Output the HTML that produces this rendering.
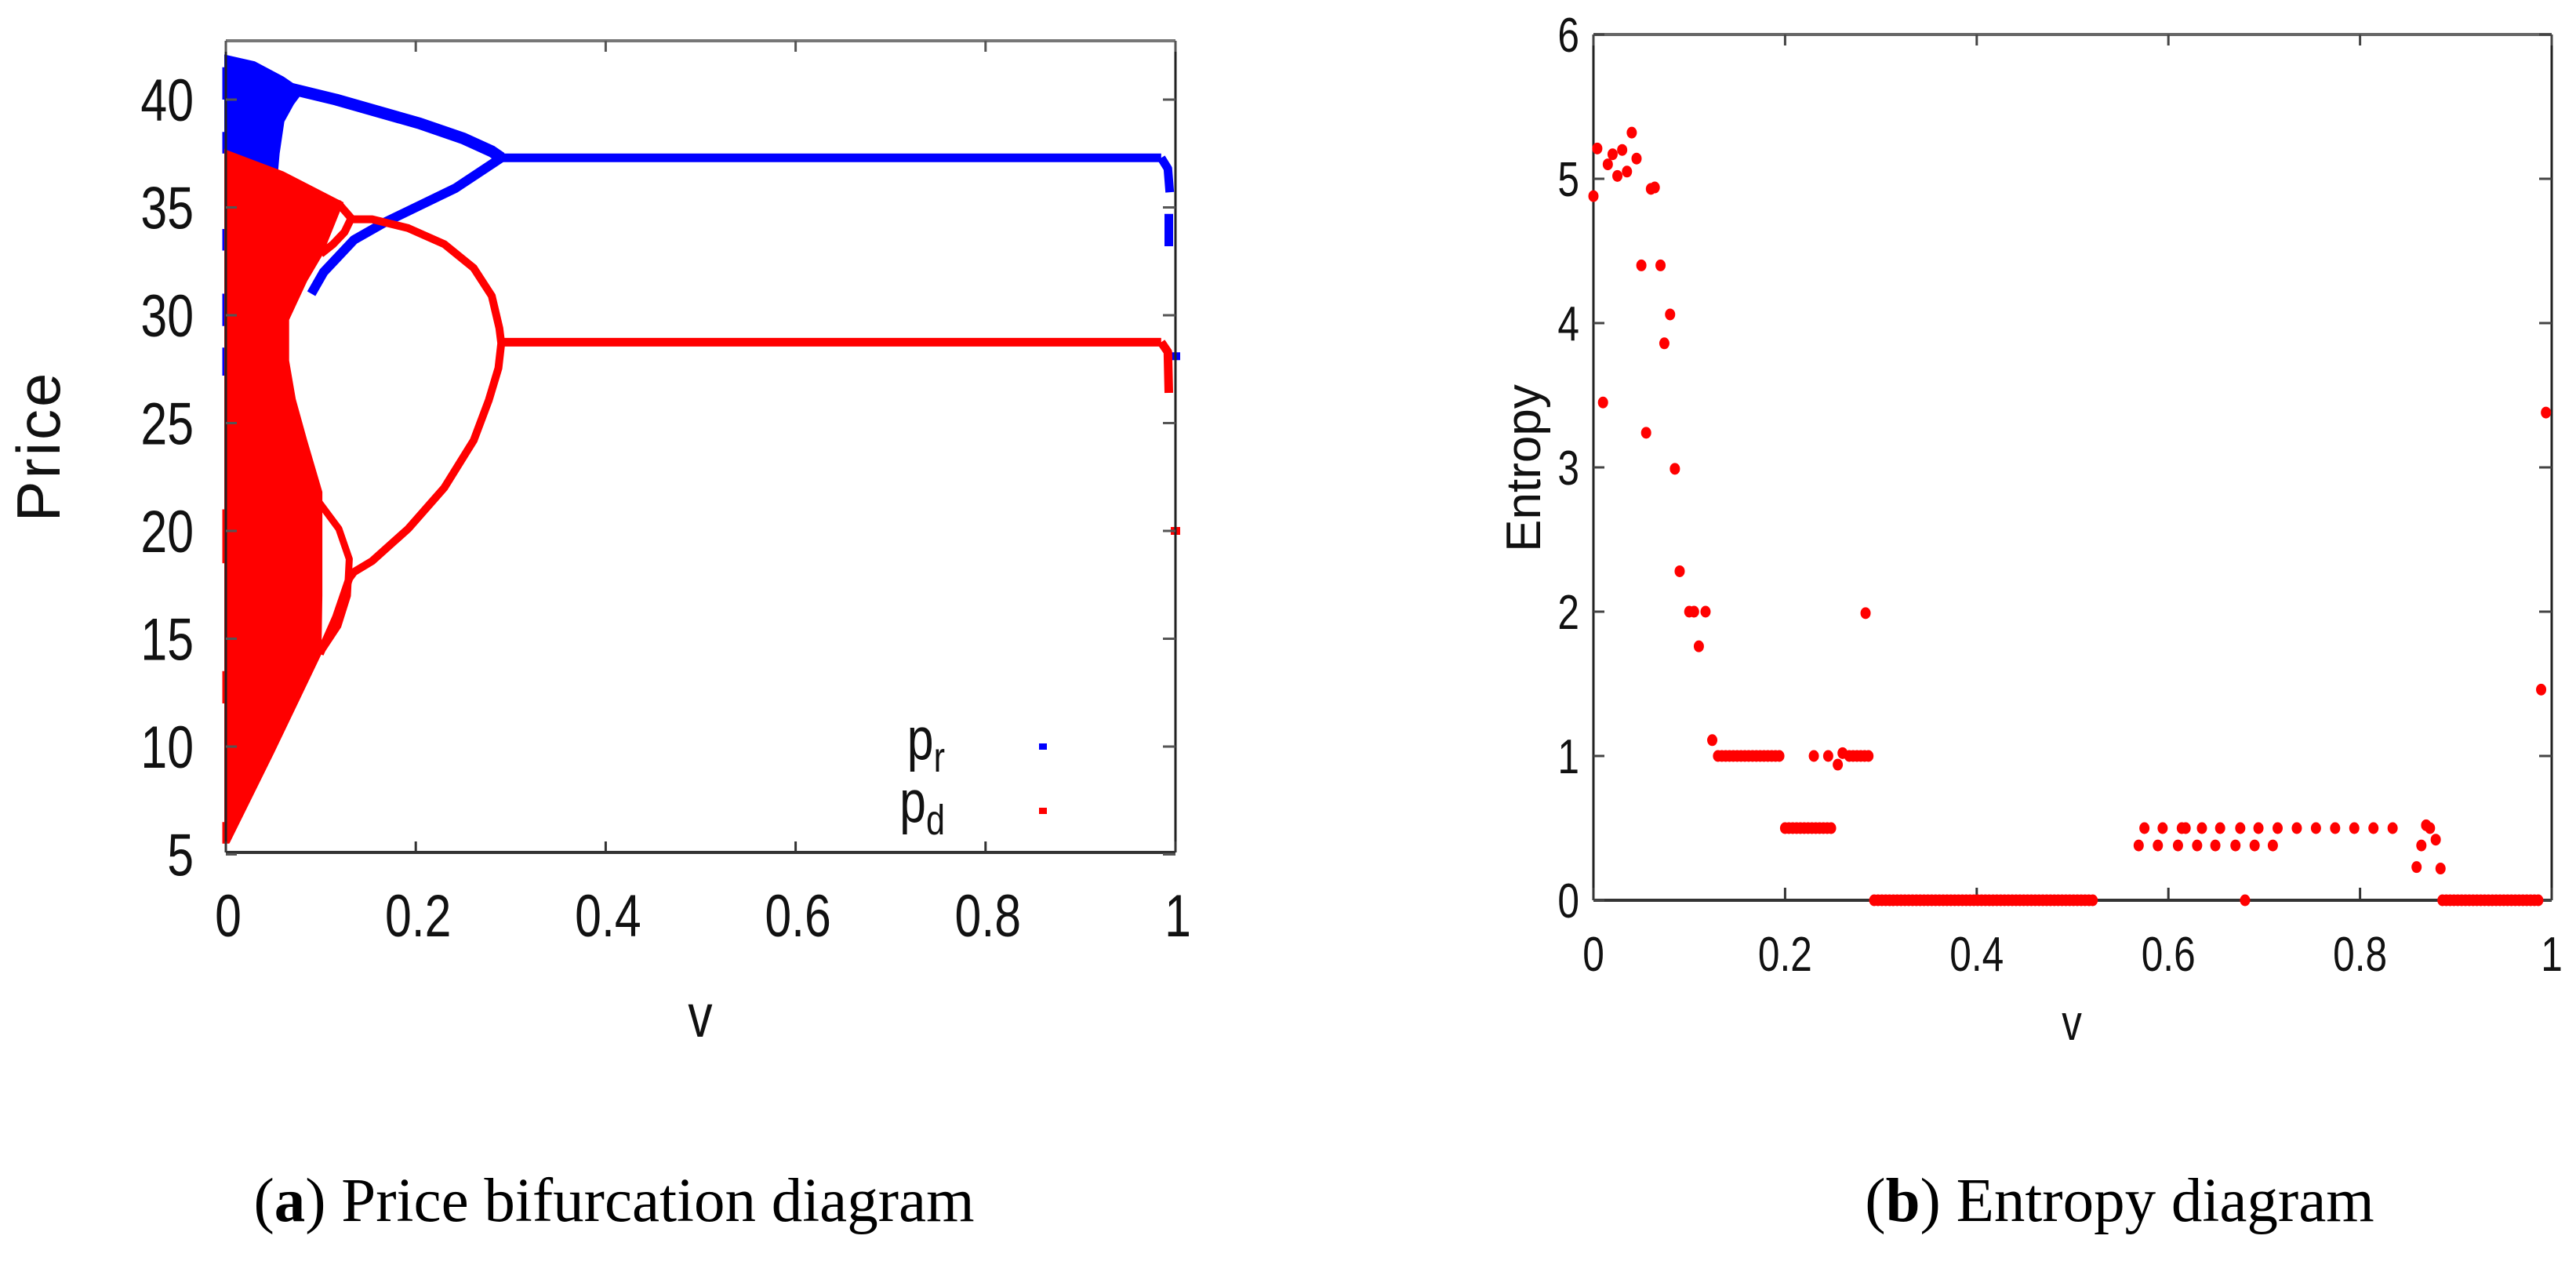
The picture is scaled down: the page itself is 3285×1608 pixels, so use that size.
<!DOCTYPE html>
<html><head><meta charset="utf-8"><style>
html,body{margin:0;padding:0;background:#fff;}
svg{display:block;}
.tk{font-family:"Liberation Sans Narrow","Liberation Sans",sans-serif;fill:#111;}
.cap{font-family:"Liberation Serif",serif;fill:#000;}
</style></head><body>
<svg id="fig" width="3285" height="1608" viewBox="0 0 3285 1608" xmlns="http://www.w3.org/2000/svg">
<rect width="3285" height="1608" fill="#fff"/>
<g id="left"></g>
<g id="right"></g>
<text class="cap" x="783" y="1557" font-size="79" text-anchor="middle">(<tspan font-weight="bold">a</tspan>) Price bifurcation diagram</text>
<text class="cap" x="2703" y="1557" font-size="79" text-anchor="middle">(<tspan font-weight="bold">b</tspan>) Entropy diagram</text>
</svg>
<script>
// ---------- Price bifurcation data ----------
const xTicksL = [0, 0.2, 0.4, 0.6, 0.8, 1];
const xTickLabelsL = ["0", "0.2", "0.4", "0.6", "0.8", "1"];
const yTicksL = [5, 10, 15, 20, 25, 30, 35, 40];
const yTickLabelsL = ["5", "10", "15", "20", "25", "30", "35", "40"];
const prChaosV = [0, 0.03, 0.06, 0.08, 0.07, 0.06, 0.055, 0.05, 0.03, 0];
const prChaosP = [42.0, 41.7, 41.0, 40.4, 39.8, 39.0, 37.5, 35.0, 34.5, 34.0];
const prUpperV = [0.05, 0.116, 0.204, 0.25, 0.28, 0.29];
const prUpperP = [40.7, 40.0, 38.9, 38.2, 37.6, 37.3];
const prLowerV = [0.29, 0.242, 0.167, 0.135, 0.103, 0.09];
const prLowerP = [37.3, 35.9, 34.3, 33.5, 32.0, 31.0];
const prBandV = [0, 0.072];
const prBandP = [33.6, 33.6];
const prFixedV = [0.29, 0.985];
const prFixedP = [37.3, 37.3];
const prEndV = [0.985, 0.992, 0.994];
const prEndP = [37.3, 36.8, 35.7];
const prEnd2V = [0.993, 0.993];
const prEnd2P = [34.7, 33.2];
const prLooseV = [1.0];
const prLooseP = [28.1];
const prAxisP0 = [41.5, 38.5, 34.0, 31.0, 28.5];
const prAxisP1 = [40.0, 37.5, 33.0, 29.5, 27.2];

const pdChaosV = [0, 0.06, 0.122, 0.1, 0.084, 0.065, 0.065, 0.072, 0.084, 0.1, 0.1, 0.099, 0.049, 0.003, 0];
const pdChaosP = [37.6, 36.6, 35.2, 32.8, 31.6, 29.8, 27.9, 26.1, 24.2, 21.8, 17.0, 14.3, 9.7, 5.6, 5.6];
const pdLoopV = [0.09, 0.103, 0.119, 0.132, 0.125, 0.113, 0.1];
const pdLoopP = [34.8, 35.25, 35.16, 34.5, 33.86, 33.3, 32.84];
const pdBigV = [0.132, 0.154, 0.192, 0.23, 0.261, 0.28, 0.288, 0.29, 0.287, 0.277, 0.261, 0.23, 0.192, 0.154, 0.135, 0.13, 0.116, 0.099];
const pdBigP = [34.45, 34.45, 34.04, 33.3, 32.19, 30.9, 29.4, 28.7, 27.55, 26.07, 24.2, 22.0, 20.1, 18.6, 18.1, 17.8, 16.0, 14.3];
const pdLowV = [0.097, 0.119, 0.13, 0.128, 0.118, 0.1];
const pdLowP = [21.4, 20.1, 18.7, 17.0, 15.6, 14.4];
const pdFixedV = [0.29, 0.985];
const pdFixedP = [28.75, 28.75];
const pdEndV = [0.985, 0.992, 0.993];
const pdEndP = [28.75, 28.3, 26.4];
const pdLooseV = [1.0];
const pdLooseP = [20.0];
const pdAxisP0 = [21.0, 13.5, 6.5];
const pdAxisP1 = [18.5, 12.0, 5.5];

// ---------- Entropy data ----------
const xTicksR = [0, 0.2, 0.4, 0.6, 0.8, 1];
const xTickLabelsR = ["0", "0.2", "0.4", "0.6", "0.8", "1"];
const yTicksR = [0, 1, 2, 3, 4, 5, 6];
const yTickLabelsR = ["0", "1", "2", "3", "4", "5", "6"];
const entV = [0, 0.004, 0.01, 0.015, 0.02, 0.025, 0.03, 0.035, 0.04, 0.045, 0.05, 0.055, 0.06, 0.064, 0.07, 0.074, 0.08, 0.085, 0.09,
  0.1, 0.105, 0.11, 0.117, 0.124, 0.23, 0.245, 0.255, 0.26, 0.284, 0.68,
  0.575, 0.594, 0.614, 0.618, 0.635, 0.654, 0.675, 0.694, 0.714, 0.734, 0.754, 0.774, 0.794, 0.814, 0.834,
  0.569, 0.589, 0.61, 0.63, 0.649, 0.67, 0.69, 0.709,
  0.859, 0.864, 0.869, 0.873, 0.879, 0.884, 0.989, 0.994];
const entH = [4.88, 5.21, 3.45, 5.10, 5.17, 5.02, 5.20, 5.05, 5.32, 5.14, 4.40, 3.24, 4.93, 4.94, 4.40, 3.86, 4.06, 2.99, 2.28,
  2.0, 2.0, 1.76, 2.0, 1.11, 1.0, 1.0, 0.94, 1.02, 1.99, 0,
  0.5, 0.5, 0.5, 0.5, 0.5, 0.5, 0.5, 0.5, 0.5, 0.5, 0.5, 0.5, 0.5, 0.5, 0.5,
  0.38, 0.38, 0.38, 0.38, 0.38, 0.38, 0.38, 0.38,
  0.23, 0.38, 0.52, 0.50, 0.42, 0.22, 1.46, 3.38];
const runStart = [0.13, 0.2, 0.267, 0.293, 0.886];
const runEnd = [0.195, 0.25, 0.29, 0.523, 0.987];
const runH = [1, 0.5, 1, 0, 0];

const NS = "http://www.w3.org/2000/svg";
function mk(parent, tag, attrs) {
  const e = document.createElementNS(NS, tag);
  for (const k in attrs) e.setAttribute(k, attrs[k]);
  parent.appendChild(e);
  return e;
}
function condense(t, f) {
  const w = t.getComputedTextLength();
  if (w > 0) { t.setAttribute('textLength', (w * f).toFixed(1)); t.setAttribute('lengthAdjust', 'spacingAndGlyphs'); }
}
const xL = v => 288 + v * 1211;
const yL = p => 127 + (40 - p) * 27.5;
const xR = v => 2032 + v * 1222;
const yR = h => 1148 - h * 184;

// ---------- Left chart ----------
const L = document.getElementById('left');
function pts(vs, ps) { return vs.map((v, i) => xL(v).toFixed(1) + "," + yL(ps[i]).toFixed(1)).join(" "); }
function line(vs, ps, color, w, name) {
  const e = mk(L, 'polyline', {points: pts(vs, ps), fill: 'none', stroke: color, 'stroke-width': w, 'stroke-linejoin': 'round'});
  
  
  return e;
}
function poly(vs, ps, color, name) {
  const e = mk(L, 'polygon', {points: pts(vs, ps), fill: color, stroke: color, 'stroke-width': 4});
  
  
}
poly(prChaosV, prChaosP, '#0000ff', 'pr-chaotic-region');
line(prUpperV, prUpperP, '#0000ff', 15, 'pr-upper-branch');
line(prLowerV, prLowerP, '#0000ff', 12, 'pr-lower-branch');
line(prBandV, prBandP, '#0000ff', 9, 'pr-band');
line(prFixedV, prFixedP, '#0000ff', 11, 'pr-fixed-point');
line(prEndV, prEndP, '#0000ff', 11, 'pr-end-drop');
line(prEnd2V, prEnd2P, '#0000ff', 11, 'pr-end-drop-2');
prAxisP0.forEach((p, i) => {
  const e = mk(L, 'line', {x1: xL(0), x2: xL(0), y1: yL(p), y2: yL(prAxisP1[i]), stroke: '#0000ff', 'stroke-width': 9});
  
  
});
prLooseV.forEach((v, i) => {
  const e = mk(L, 'rect', {x: xL(v) - 6, y: yL(prLooseP[i]) - 5, width: 12, height: 10, fill: '#0000ff'});
  
  
});
poly(pdChaosV, pdChaosP, '#ff0000', 'pd-chaotic-region');
line(pdLoopV, pdLoopP, '#ff0000', 10, 'pd-upper-loop');
line(pdBigV, pdBigP, '#ff0000', 10, 'pd-big-loop');
line(pdLowV, pdLowP, '#ff0000', 9, 'pd-lower-loop');
line(pdFixedV, pdFixedP, '#ff0000', 11, 'pd-fixed-point');
line(pdEndV, pdEndP, '#ff0000', 11, 'pd-end-drop');
pdAxisP0.forEach((p, i) => {
  const e = mk(L, 'line', {x1: xL(0), x2: xL(0), y1: yL(p), y2: yL(pdAxisP1[i]), stroke: '#ff0000', 'stroke-width': 9});
  
  
});
pdLooseV.forEach((v, i) => {
  const e = mk(L, 'rect', {x: xL(v) - 6, y: yL(pdLooseP[i]) - 5, width: 12, height: 10, fill: '#ff0000'});
  
  
});
(function () {
  const x0 = 288, x1 = 1499, y0 = 52, y1 = 1087;
  let e = mk(L, 'line', {x1: x0, y1: y0, x2: x1, y2: y0, stroke: '#777', 'stroke-width': 4});
   
  e = mk(L, 'line', {x1: x0, y1: y1, x2: x1, y2: y1, stroke: '#333', 'stroke-width': 4});
   
  e = mk(L, 'line', {x1: x0, y1: y0, x2: x0, y2: y1, stroke: '#222', 'stroke-width': 3});
   
  e = mk(L, 'line', {x1: x1, y1: y0, x2: x1, y2: y1, stroke: '#222', 'stroke-width': 3});
   
  xTicksL.forEach((v, i) => {
    let t = mk(L, 'line', {x1: xL(v), x2: xL(v), y1: y1, y2: y1 - 14, stroke: '#333', 'stroke-width': 3});
     
    t = mk(L, 'line', {x1: xL(v), x2: xL(v), y1: y0, y2: y0 + 14, stroke: '#555', 'stroke-width': 3});
     
    const tx = mk(L, 'text', {x: xL(v) + 3, y: 1194, 'font-size': 76, 'text-anchor': 'middle', class: 'tk'});
    tx.textContent = xTickLabelsL[i];
     
    condense(tx, 0.8);
  });
  yTicksL.forEach((p, i) => {
    let t = mk(L, 'line', {x1: x0, x2: x0 + 14, y1: yL(p), y2: yL(p), stroke: '#555', 'stroke-width': 3});
     
    t = mk(L, 'line', {x1: x1, x2: x1 - 16, y1: yL(p), y2: yL(p), stroke: '#555', 'stroke-width': 3});
     
    const tx = mk(L, 'text', {x: 247, y: yL(p) + 27, 'font-size': 76, 'text-anchor': 'end', class: 'tk'});
    tx.textContent = yTickLabelsL[i];
     
    condense(tx, 0.8);
  });
  let tx = mk(L, 'text', {x: 893, y: 1322, 'font-size': 78, 'text-anchor': 'middle', class: 'tk'});
  tx.textContent = 'v';
   
  condense(tx, 0.8);
  tx = mk(L, 'text', {x: 0, y: 0, 'font-size': 78, 'text-anchor': 'middle', 'font-family': '"Liberation Sans",sans-serif', fill: '#111', 'letter-spacing': 3, transform: 'translate(76,569) rotate(-90)'});
  tx.textContent = 'Price';
   
  const lg = mk(L, 'g', {});
   
  let t1 = mk(lg, 'text', {x: 1205, y: 968, 'font-size': 76, 'text-anchor': 'end', class: 'tk', transform: 'translate(1205,0) scale(0.8,1) translate(-1205,0)'});
  t1.innerHTML = 'p<tspan font-size="54" dy="16">r</tspan>';
   
  let t2 = mk(lg, 'text', {x: 1205, y: 1048, 'font-size': 76, 'text-anchor': 'end', class: 'tk', transform: 'translate(1205,0) scale(0.8,1) translate(-1205,0)'});
  t2.innerHTML = 'p<tspan font-size="54" dy="16">d</tspan>';
   
  let d1 = mk(lg, 'rect', {x: 1325, y: 948, width: 10, height: 8, fill: '#0000ff'});
   
  let d2 = mk(lg, 'rect', {x: 1325, y: 1030, width: 10, height: 8, fill: '#ff0000'});
   
})();

// ---------- Right chart ----------
const R = document.getElementById('right');
(function () {
  const x0 = 2032, x1 = 3254, y0 = 44, y1 = 1148;
  let e = mk(R, 'line', {x1: x0, y1: y0, x2: x1, y2: y0, stroke: '#666', 'stroke-width': 4});
   
  e = mk(R, 'line', {x1: x0, y1: y1, x2: x1, y2: y1, stroke: '#333', 'stroke-width': 4});
   
  e = mk(R, 'line', {x1: x0, y1: y0, x2: x0, y2: y1, stroke: '#222', 'stroke-width': 3});
   
  e = mk(R, 'line', {x1: x1, y1: y0, x2: x1, y2: y1, stroke: '#222', 'stroke-width': 3});
   
  xTicksR.forEach((v, i) => {
    let t = mk(R, 'line', {x1: xR(v), x2: xR(v), y1: y1, y2: y1 - 16, stroke: '#333', 'stroke-width': 3});
     
    t = mk(R, 'line', {x1: xR(v), x2: xR(v), y1: y0, y2: y0 + 14, stroke: '#444', 'stroke-width': 3});
     
    const tx = mk(R, 'text', {x: xR(v), y: 1238, 'font-size': 62, 'text-anchor': 'middle', class: 'tk'});
    tx.textContent = xTickLabelsR[i];
     
    condense(tx, 0.8);
  });
  yTicksR.forEach((h, i) => {
    let t = mk(R, 'line', {x1: x0, x2: x0 + 14, y1: yR(h), y2: yR(h), stroke: '#444', 'stroke-width': 3});
     
    t = mk(R, 'line', {x1: x1, x2: x1 - 16, y1: yR(h), y2: yR(h), stroke: '#444', 'stroke-width': 3});
     
    const tx = mk(R, 'text', {x: 2014, y: yR(h) + 22, 'font-size': 62, 'text-anchor': 'end', class: 'tk'});
    tx.textContent = yTickLabelsR[i];
     
    condense(tx, 0.8);
  });
  let tx = mk(R, 'text', {x: 2642, y: 1326, 'font-size': 64, 'text-anchor': 'middle', class: 'tk'});
  tx.textContent = 'v';
   
  condense(tx, 0.8);
  tx = mk(R, 'text', {x: 0, y: 0, 'font-size': 62, 'text-anchor': 'middle', 'font-family': '"Liberation Sans",sans-serif', fill: '#111', transform: 'translate(1964,597) rotate(-90)'});
  tx.textContent = 'Entropy';
   

  runStart.forEach((s, i) => {
    for (let v = s; v <= runEnd[i] + 1e-9; v += 0.004) {
      const d = mk(R, 'ellipse', {cx: xR(v), cy: yR(runH[i]), rx: 6.5, ry: 7.5, fill: '#ff0000'});
      
      
    }
  });
  entV.forEach((v, i) => {
    const d = mk(R, 'ellipse', {cx: xR(v), cy: yR(entH[i]), rx: 6.5, ry: 7.5, fill: '#ff0000'});
    
    
  });
})();
</script>
</body></html>
